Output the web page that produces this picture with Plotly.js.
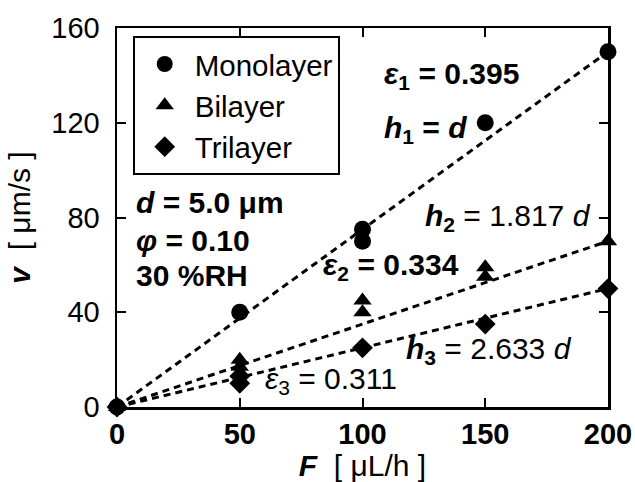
<!DOCTYPE html>
<html><head><meta charset="utf-8">
<script src="https://cdn.plot.ly/plotly-3.0.1.min.js"></script>
<style>html,body{margin:0;padding:0;background:#fff}</style>
</head><body>
<div id="chart" style="width:635px;height:482px"></div>
<script>
// Data
const monoF = [0, 50, 100, 100, 150, 200];
const monoV = [0, 40, 75, 70, 120, 150];
const biF = [0, 50, 50, 100, 100, 150, 150, 200];
const biV = [0, 20, 17, 45, 40, 59, 55, 70];
const triF = [0, 50, 50, 100, 150, 200];
const triV = [0, 13, 10, 25, 35, 50];
const fitF = [0, 200];
const monoFit = [0, 150];
const biFit = [0, 70];
const triFit = [0, 50];
const xTicks = [0, 50, 100, 150, 200];
const yTicks = [0, 40, 80, 120, 160];

const FONT = 'Liberation Sans, Arial, sans-serif';
const dashLine = {color: '#000', width: 3, dash: '7px,5px'};

const traces = [
  {x: fitF, y: monoFit, mode: 'lines', line: dashLine, showlegend: false, hoverinfo: 'skip'},
  {x: fitF, y: biFit, mode: 'lines', line: dashLine, showlegend: false, hoverinfo: 'skip'},
  {x: fitF, y: triFit, mode: 'lines', line: dashLine, showlegend: false, hoverinfo: 'skip'},
  {x: monoF, y: monoV, mode: 'markers', name: 'Monolayer', cliponaxis: false,
   marker: {symbol: 'circle', size: 17, color: '#000'}},
  {x: biF, y: biV, mode: 'markers', name: 'Bilayer', cliponaxis: false,
   marker: {symbol: 'triangle-up', size: 16, color: '#000'}},
  {x: triF, y: triV, mode: 'markers', name: 'Trilayer', cliponaxis: false,
   marker: {symbol: 'diamond', size: 16, color: '#000'}}
];

function ann(text, x, y, extra) {
  return Object.assign({text: text, x: x, y: y, xref: 'x', yref: 'y', xanchor: 'left', yanchor: 'middle',
    showarrow: false, font: {family: FONT, size: 30, color: '#000'}}, extra || {});
}

const layout = {
  width: 635, height: 482,
  margin: {l: 117, r: 27, t: 28, b: 75},
  paper_bgcolor: '#fff', plot_bgcolor: '#fff',
  font: {family: FONT, color: '#000', size: 30},
  showlegend: true,
  legend: {x: 0.032, y: 0.978, xanchor: 'left', yanchor: 'top', bgcolor: 'rgba(0,0,0,0)',
    bordercolor: '#000', borderwidth: 2, font: {family: FONT, size: 29.5, color: '#000'},
    tracegroupgap: 0, itemwidth: 50},
  xaxis: {range: [0, 200], tickvals: xTicks, ticktext: xTicks.map(String), showgrid: false, zeroline: false,
    showline: true, linecolor: '#000', linewidth: 2.5, mirror: 'allticks', ticks: 'inside', ticklen: 9, tickwidth: 2,
    tickcolor: '#000', tickfont: {family: FONT, size: 29, color: '#000', weight: 'bold'},
    title: {text: '<b><i>F</i></b>  [ μL/h ]', font: {family: FONT, size: 30, color: '#000'}, standoff: 6}},
  yaxis: {range: [0, 160], tickvals: yTicks, ticktext: yTicks.map(String), showgrid: false, zeroline: false,
    showline: true, linecolor: '#000', linewidth: 2.5, mirror: 'allticks', ticks: 'inside', ticklen: 9, tickwidth: 2,
    tickcolor: '#000', tickfont: {family: FONT, size: 29, color: '#000'}, ticklabelstandoff: 9,
    title: {text: '<b><i>v</i></b>  [ μm/s ]', font: {family: FONT, size: 30, color: '#000'}, standoff: 12}},
  annotations: [
    ann('<b><i>ε</i><sub>1</sub> = 0.395</b>', 108, 140),
    ann('<b><i>h</i><sub>1</sub> = <i>d</i></b>', 108, 117),
    ann('<b><i>h</i><sub>2</sub></b> = 1.817 <i>d</i>', 124.5, 80),
    ann('<b><i>ε</i><sub>2</sub> = 0.334</b>', 83, 59.5),
    ann('<b><i>h</i><sub>3</sub></b> = 2.633 <i>d</i>', 117, 24),
    ann('<i>ε</i><sub>3</sub> = 0.311', 59.5, 11),
    ann('<b><i>d</i> = 5.0 μm</b>', 7, 86.5),
    ann('<b><i>φ</i> = 0.10</b>', 7, 70.5),
    ann('<b>30 %RH</b>', 7, 55.5)
  ]
};

Plotly.newPlot('chart', traces, layout, {displayModeBar: false, staticPlot: true});
</script>
</body></html>
